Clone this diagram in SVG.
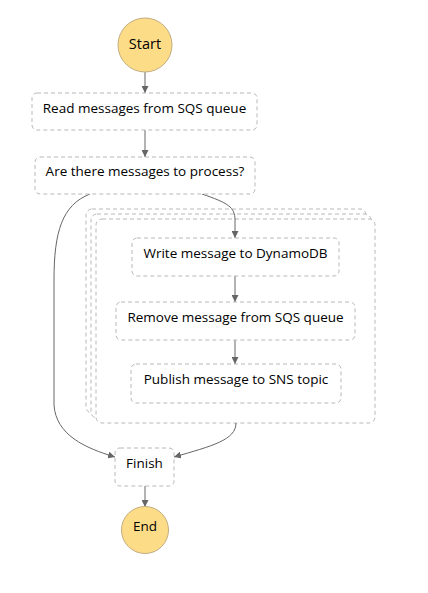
<svg xmlns="http://www.w3.org/2000/svg" width="428" height="593" viewBox="0 0 428 593">
<defs>
<style>
.box{fill:#fff;stroke:#b8b8b8;stroke-width:1;stroke-dasharray:4 3}
.circ{fill:#fddc88;stroke:#c2ad80;stroke-width:1}
.lbl{font-family:"Open Sans","Noto Sans",sans-serif;font-size:13.5px;fill:#000;text-anchor:middle;dominant-baseline:central}
.edge{fill:none;stroke:#666;stroke-width:1;marker-end:url(#arr)}
</style>
<marker id="arr" viewBox="0 0 10 10" refX="10" refY="5" markerWidth="7" markerHeight="7" markerUnits="userSpaceOnUse" orient="auto">
<path d="M0,0 L10,5 L0,10 z" fill="#666"/>
</marker>
</defs>
<rect width="428" height="593" fill="#fff"/>
<g id="parallel">
<rect class="box" x="86" y="209" width="280" height="204" rx="6"/>
<rect class="box" x="91" y="214" width="280" height="204" rx="6"/>
<rect class="box" x="96" y="219" width="279" height="204" rx="6"/>
</g>
<g id="connectors">
<path class="edge" d="M145 72 L145 93"/>
<path class="edge" d="M145 130 L145 157"/>
<path class="edge" d="M202 194 C228 203 235 207 235 220 L235 238"/>
<path class="edge" d="M235 276 L235 302"/>
<path class="edge" d="M235 340 L235 364"/>
<path class="edge" d="M90 194 C62 205 54 232 54 280 L54 405 C56 435 85 448 115 457"/>
<path class="edge" d="M236 423 C236 440 212 446 174 457"/>
<path class="edge" d="M145 486 L145 507"/>
</g>
<g id="start">
<circle class="circ" cx="145" cy="45" r="27"/>
<text class="lbl" x="145" y="43" style="font-size:14.5px">Start</text>
</g>
<g id="read">
<rect class="box" x="32" y="93" width="225" height="37" rx="5"/>
<text class="lbl" x="144.5" y="108">Read messages from SQS queue</text>
</g>
<g id="decide">
<rect class="box" x="35" y="157" width="220" height="37" rx="5"/>
<text class="lbl" x="145" y="171">Are there messages to process?</text>
</g>
<g id="write">
<rect class="box" x="132" y="238" width="207" height="38" rx="5"/>
<text class="lbl" x="235.5" y="253">Write message to DynamoDB</text>
</g>
<g id="remove">
<rect class="box" x="116" y="302" width="239" height="38" rx="5"/>
<text class="lbl" x="235.5" y="317">Remove message from SQS queue</text>
</g>
<g id="publish">
<rect class="box" x="131" y="364" width="210" height="39" rx="5"/>
<text class="lbl" x="236" y="379">Publish message to SNS topic</text>
</g>
<g id="finish">
<rect class="box" x="115" y="448" width="59" height="38" rx="5"/>
<text class="lbl" x="144.5" y="463">Finish</text>
</g>
<g id="end">
<circle class="circ" cx="145" cy="530" r="23.5"/>
<text class="lbl" x="145" y="526">End</text>
</g>
</svg>
